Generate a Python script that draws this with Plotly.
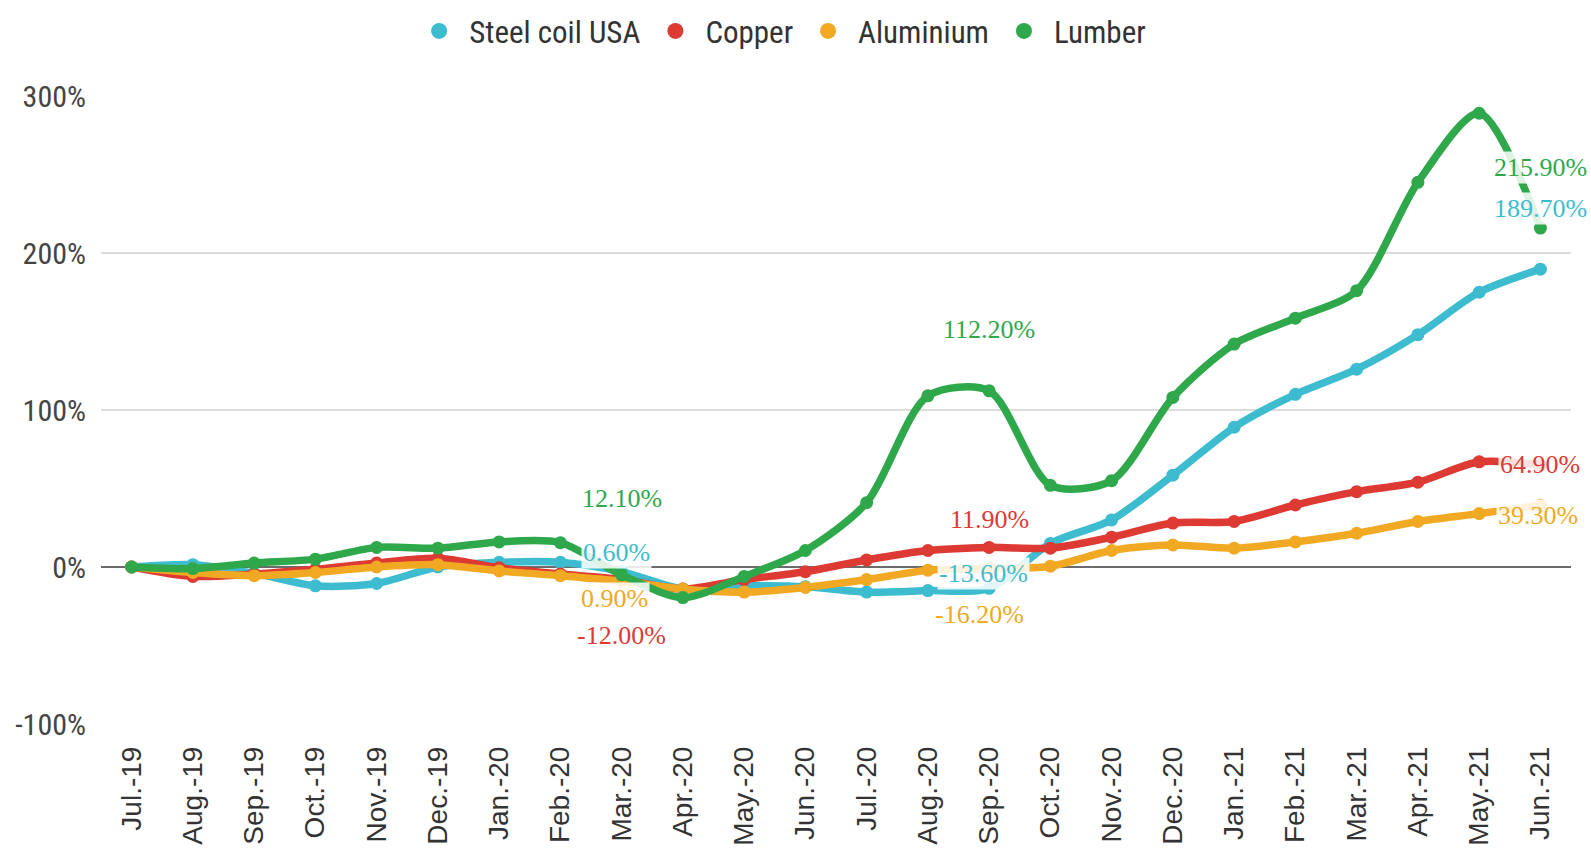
import plotly.graph_objects as go

months = ["Jul.-19", "Aug.-19", "Sep.-19", "Oct.-19", "Nov.-19", "Dec.-19",
          "Jan.-20", "Feb.-20", "Mar.-20", "Apr.-20", "May.-20", "Jun.-20",
          "Jul.-20", "Aug.-20", "Sep.-20", "Oct.-20", "Nov.-20", "Dec.-20",
          "Jan.-21", "Feb.-21", "Mar.-21", "Apr.-21", "May.-21", "Jun.-21"]

steel = [0, 1.5, -4, -12, -10.5, 0, 3, 3, -3, -14, -12, -12.5,
         -16, -15, -13.6, 15, 30, 58.5, 89, 110, 126, 148, 175, 189.7]
copper = [0, -6, -4.5, -1.5, 2.5, 5.5, -0.5, -4.5, -8, -14, -8, -3,
          4.5, 10.5, 12.5, 12, 19, 28, 29, 39.5, 48, 54, 67, 64.9]
aluminium = [0, -3.5, -5.5, -3.5, 0, 1.5, -2.5, -5.5, -9, -14, -16, -13,
             -8, -2, -1, 0.5, 10.5, 14, 12, 16, 21.5, 29, 34, 39.3]
lumber = [0, -1, 2.5, 5, 12.5, 12, 16, 15.5, -5, -19.5, -6, 10.5,
          41, 109, 112.2, 52, 55, 108, 142, 158.5, 176, 245, 289, 215.9]

series_names = ["Steel coil USA", "Copper", "Aluminium", "Lumber"]
series_values = [steel, copper, aluminium, lumber]
series_colors = ["#3dbccf", "#dc3a33", "#f1a923", "#2ea84a"]

# value labels: (text, month, y position in data units, colour index)
labels_text = ["12.10%", "0.60%", "0.90%", "-12.00%",
               "112.20%", "11.90%", "-13.60%", "-16.20%",
               "215.90%", "189.70%", "64.90%", "39.30%"]
labels_month = ["Mar.-20", "Mar.-20", "Mar.-20", "Mar.-20",
                "Sep.-20", "Sep.-20", "Sep.-20", "Sep.-20",
                "Jun.-21", "Jun.-21", "Jun.-21", "Jun.-21"]
labels_y = [43.5, 9.5, -20, -43.5,
            151, 30.5, -4, -30.5,
            254.5, 228.5, 65.5, 33]
labels_series = [3, 0, 2, 1, 3, 1, 0, 2, 3, 0, 1, 2]
labels_xshift = [0, -5, -7, 0, 0, 0, -6, -10, 0, 0, 0, -2]

y_ticks = [-100, 0, 100, 200, 300]
y_ticktext = ["-100%", "0%", "100%", "200%", "300%"]

fig = go.Figure()
for name, vals, col in zip(series_names, series_values, series_colors):
    fig.add_trace(go.Scatter(
        x=months, y=vals, mode="lines+markers", name=name,
        line=dict(color=col, width=7.5, shape="spline", smoothing=0.8),
        marker=dict(color=col, size=13),
        showlegend=False, cliponaxis=False))
# legend-only circle entries
for name, col in zip(series_names, series_colors):
    fig.add_trace(go.Scatter(
        x=[None], y=[None], mode="markers", name=name,
        marker=dict(color=col, size=16), showlegend=True))

for t, m, yv, si, xs in zip(labels_text, labels_month, labels_y, labels_series, labels_xshift):
    fig.add_annotation(
        x=m, y=yv, xref="x", yref="y", text=t, showarrow=False,
        xshift=xs,
        font=dict(family="Liberation Serif, Times New Roman, serif", size=26,
                  color=series_colors[si]),
        bgcolor="rgba(255,255,255,0.85)", borderpad=1)

fig.update_layout(
    width=1591, height=859,
    margin=dict(l=101, r=20, t=96, b=135, autoexpand=False),
    paper_bgcolor="white", plot_bgcolor="white",
    showlegend=True,
    legend=dict(orientation="h", x=0.462, xanchor="center",
                y=0.995, yanchor="top", yref="container",
                font=dict(family="Liberation Sans Narrow, Arial Narrow, Roboto Condensed, sans-serif",
                          size=31, color="#333333"),
                itemwidth=50, tracegroupgap=0),
    xaxis=dict(type="category", categoryorder="array", categoryarray=months,
               range=[-0.5, 23.5], tickangle=-90, showgrid=False,
               showline=False, ticks="", automargin=False,
               tickfont=dict(family="Liberation Sans, Arial, sans-serif",
                             size=28, color="#333333"),
               ticklabelstandoff=16),
    yaxis=dict(range=[-100, 300], tickvals=y_ticks, ticktext=y_ticktext,
               showgrid=True, gridcolor="#dcdcdc", gridwidth=2,
               zeroline=True, zerolinecolor="#6b6b6b", zerolinewidth=2,
               showline=False, ticks="", automargin=False,
               tickfont=dict(family="Liberation Sans Narrow, Arial Narrow, Roboto Condensed, sans-serif",
                             size=30, color="#444444"),
               ticklabelstandoff=14),
)

fig.write_html("out.html", config={"displayModeBar": False},
               post_script="document.body.style.margin='0';document.body.style.overflow='hidden';")
